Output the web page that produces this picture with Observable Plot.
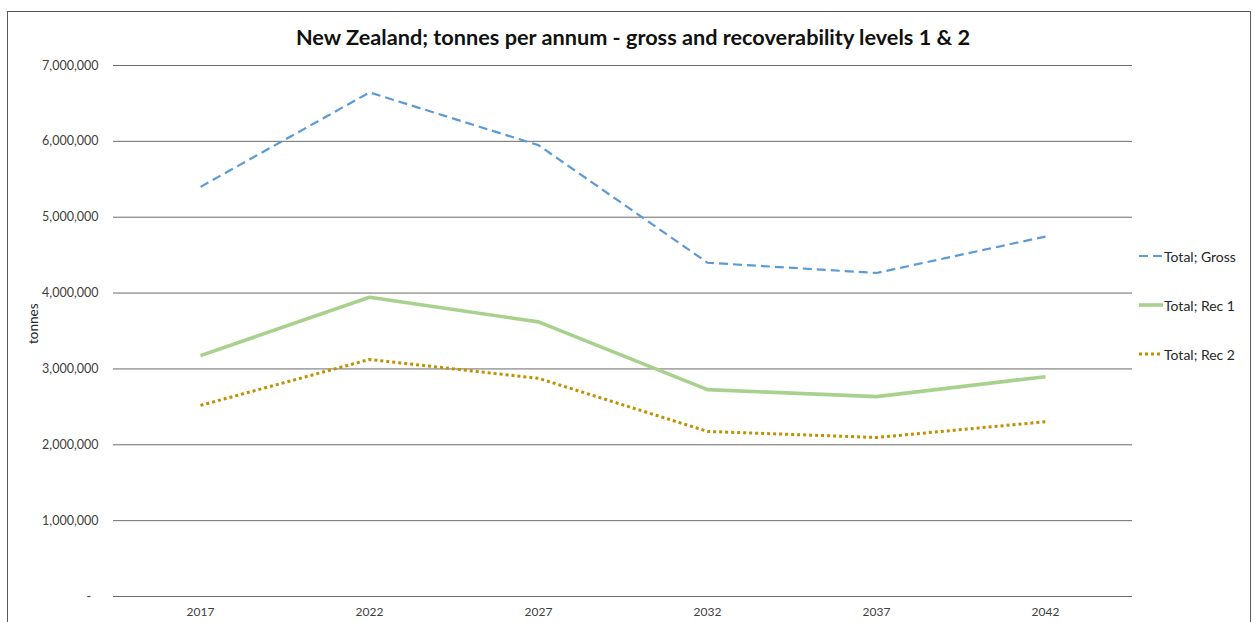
<!DOCTYPE html>
<html>
<head>
<meta charset="utf-8">
<script src="https://cdn.jsdelivr.net/npm/d3@7"></script>
<script src="https://cdn.jsdelivr.net/npm/@observablehq/plot@0.6"></script>
<style>
  html, body { margin: 0; padding: 0; background: #fff; }
  body { width: 1255px; height: 622px; overflow: hidden; position: relative; font-family: Lato, "Open Sans", sans-serif; }
  #frame { position: absolute; left: 7px; top: 11px; width: 1244px; height: 700px; border: 1.5px solid #595959; box-sizing: border-box; pointer-events: none; }
  #chart { position: absolute; left: 0; top: 0; }
  #legend { position: absolute; left: 1139px; top: 244px; font-size: 14px; color: #262626; }
  #legend .item { display: flex; align-items: center; height: 24px; margin-bottom: 25px; }
  #legend svg { margin-right: 1px; }
</style>
</head>
<body>
<div id="chart"></div>
<div id="legend"></div>
<div id="frame"></div>
<script>
// Projected tonnes per annum, New Zealand
const years = ["2017", "2022", "2027", "2032", "2037", "2042"];
const gross = [5400000, 6645000, 5950000, 4400000, 4265000, 4745000];
const rec1  = [3175000, 3945000, 3620000, 2727000, 2635000, 2898000];
const rec2  = [2520000, 3125000, 2876000, 2176000, 2096000, 2304000];
const seriesNames = ["Total; Gross", "Total; Rec 1", "Total; Rec 2"];
const yTicks = [0, 1000000, 2000000, 3000000, 4000000, 5000000, 6000000, 7000000];

const styles = {
  "Total; Gross": {stroke: "#5b9bd5", strokeWidth: 2.2, dash: "9,5", cap: "butt"},
  "Total; Rec 1": {stroke: "#a9d18e", strokeWidth: 3.6, dash: null, cap: "butt"},
  "Total; Rec 2": {stroke: "#bf9000", strokeWidth: 3, dash: "3,3", cap: "butt"}
};

const rows = [];
[gross, rec1, rec2].forEach((vals, s) => {
  vals.forEach((v, i) => rows.push({series: seriesNames[s], year: years[i], value: v}));
});

const fmt = d3.format(",");
const lineMarks = seriesNames.map(name => Plot.line(rows.filter(r => r.series === name), {
  x: "year", y: "value",
  stroke: styles[name].stroke,
  strokeWidth: styles[name].strokeWidth,
  strokeDasharray: styles[name].dash,
  strokeLinecap: styles[name].cap,
  strokeLinejoin: "round"
}));

const chart = Plot.plot({
  width: 1255,
  height: 622,
  marginLeft: 113,
  marginRight: 123,
  marginTop: 65,
  marginBottom: 26,
  style: {fontFamily: "Lato, 'Open Sans', sans-serif", background: "transparent", overflow: "visible"},
  x: {type: "point", domain: years, padding: 0.5, label: null},
  y: {domain: [0, 7000000], label: null},
  marks: [
    Plot.ruleY(yTicks, {stroke: "#6b6b6b", strokeWidth: 1}),
    Plot.axisY({
      ticks: yTicks, tickSize: 0, tickPadding: 15, fontSize: 12.5, fill: "#404040",
      tickFormat: d => d === 0 ? "-\u2007" : fmt(d), label: null
    }),
    Plot.axisX({tickSize: 0, tickPadding: 11, fontSize: 12, fill: "#404040", label: null}),
    Plot.text(["tonnes"], {frameAnchor: "left", dx: -80, dy: 13, rotate: -90, fontSize: 13.5, fill: "#262626"}),
    Plot.text(["New Zealand; tonnes per annum - gross and recoverability levels 1 & 2"], {
      frameAnchor: "top", dy: -36, dx: 10, fontSize: 21.7, fontWeight: "bold", fill: "#111"
    }),
    ...lineMarks
  ]
});
document.getElementById("chart").appendChild(chart);

// Legend entries with line swatches matching each series style
const legend = d3.select("#legend");
seriesNames.forEach(name => {
  const st = styles[name];
  const item = legend.append("div").attr("class", "item");
  const sw = item.append("svg").attr("width", 24).attr("height", 10);
  sw.append("line").attr("x1", 0).attr("x2", 24).attr("y1", 5).attr("y2", 5)
    .attr("stroke", st.stroke).attr("stroke-width", st.strokeWidth)
    .attr("stroke-dasharray", st.dash).attr("stroke-linecap", st.cap);
  item.append("span").text(name);
});
</script>
</body>
</html>
